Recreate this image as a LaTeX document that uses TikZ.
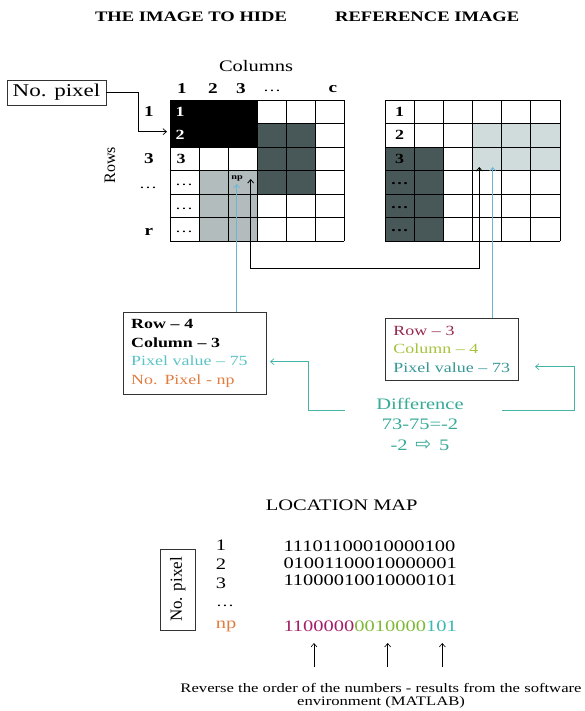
\documentclass[tikz,border=0pt]{standalone}
\usepackage{fontspec}
\setmainfont{Liberation Serif}[FakeStretch=1.28]
\newfontfamily\plainserif{Liberation Serif}
\newfontfamily\djv{DejaVu Sans}
\usetikzlibrary{arrows.meta}
\definecolor{darkcell}{RGB}{72,88,88}
\definecolor{lightcellL}{RGB}{178,188,188}
\definecolor{lightcellR}{RGB}{208,220,220}
\definecolor{bluel}{RGB}{110,180,215}
\definecolor{tealc}{RGB}{70,180,165}
\definecolor{pvL}{RGB}{90,195,195}
\definecolor{orangec}{RGB}{225,125,65}
\definecolor{maroonc}{RGB}{150,40,75}
\definecolor{olivec}{RGB}{165,195,60}
\definecolor{pvR}{RGB}{55,150,150}
\definecolor{difc}{RGB}{55,170,150}
\definecolor{npM}{RGB}{165,30,105}
\definecolor{npG}{RGB}{125,185,55}
\definecolor{npT}{RGB}{60,185,175}
\newcommand\fsz[2]{\fontsize{#1}{#2}\selectfont}
\begin{document}
\begin{tikzpicture}[x=1pt,y=-1pt,
  lbl/.style={inner sep=0pt},
  bl/.style={inner sep=0pt,font=\fsz{15}{18}\bfseries},
  cellnum/.style={inner sep=0pt,font=\fsz{14}{17}\bfseries},
  celldots/.style={inner sep=0pt,font=\fsz{14}{17}},
  gridl/.style={draw=black,line width=0.8pt},
  tip/.style={-{Straight Barb[length=3.5pt,width=6pt]}},
  conn/.style={line width=0.7pt,tip},
  infobox/.style={draw=black!80,line width=0.9pt,inner xsep=8pt,inner ysep=0pt,align=left,anchor=north west,font=\fsz{14}{18.5}},
]
\useasboundingbox (0,0) rectangle (584,711);

% titles
\node[lbl,font=\fsz{14.5}{17}\bfseries] (t1) at (191,17) {THE IMAGE TO HIDE};
\node[lbl,font=\fsz{14.5}{17}\bfseries,anchor=west] (t2) at (335,17) {REFERENCE IMAGE};

% left grid fills
\fill[black] (170,100) rectangle (257,147.1);
\fill[darkcell] (257,123.5) rectangle (315,194.2);
\fill[lightcellL] (199,170.6) rectangle (257,241.3);
\foreach \i in {0,...,6}{\draw[gridl] (170+29*\i,100) -- (170+29*\i,241.3);}
\foreach \j in {0,...,6}{\draw[gridl] (170,100+23.55*\j) -- (344,100+23.55*\j);}

% right grid fills
\fill[darkcell] (385,147.1) rectangle (443.3,241.3);
\fill[lightcellR] (472.5,123.5) rectangle (560,170.6);
\foreach \i in {0,...,6}{\draw[gridl] (385+29.17*\i,100) -- (385+29.17*\i,241.3);}
\foreach \j in {0,...,6}{\draw[gridl] (385,100+23.55*\j) -- (560,100+23.55*\j);}

% column header
\node[lbl,font=\fsz{16}{19}] (cols) at (256,66) {Columns};
\node[bl] (c1) at (182,89) {1};
\node[bl] (c2) at (213,89) {2};
\node[bl] (c3) at (241,89) {3};
\node[celldots] (c4) at (272,91) {\dots};
\node[bl] (cc) at (333,89) {c};

% row labels
\node[lbl,font=\fsz{16}{19}\plainserif,rotate=90] (rows) at (110,165) {Rows};
\node[bl] (r1) at (149,112) {1};
\node[bl] (r3) at (149,159) {3};
\node[celldots] (r4) at (148,188) {\dots};
\node[bl] (rr) at (149,232) {r};

% left grid numbers
\node[cellnum,text=white] (L1) at (180,111.8) {1};
\node[cellnum,text=white] (L2) at (180,135.3) {2};
\node[cellnum] (L3) at (181,158.9) {3};
\node[celldots] (L4) at (184,185) {\dots};
\node[celldots] (L5) at (184,208.5) {\dots};
\node[celldots] (L6) at (184,232) {\dots};
\node[lbl,font=\fsz{8}{9}\bfseries] (np) at (237,178) {np};

% right grid numbers
\node[cellnum] (R1) at (399.6,111.8) {1};
\node[cellnum] (R2) at (399.6,135.3) {2};
\node[cellnum] (R3) at (399.6,158.9) {3};
\node[cellnum] (R4) at (399.6,184) {\dots};
\node[cellnum] (R5) at (399.6,207.5) {\dots};
\node[cellnum] (R6) at (399.6,231) {\dots};

% No. pixel box
\node[draw=black!80,line width=0.9pt,minimum width=99pt,minimum height=25pt,inner sep=0pt,font=\fsz{18}{20}] (nopix) at (56.5,92.5) {No. pixel};
\coordinate (kP) at (138,131.7);
\coordinate (pin) at (167,131.7);
\draw[conn] (nopix.east) -| (kP) -- (pin);

% arrow tips inside grids
\coordinate (tipLk) at (250.7,179);
\coordinate (tipLb) at (236.7,184);
\coordinate (tipRk) at (479.3,167);
\coordinate (tipRb) at (492.7,167);
\coordinate (lowbar) at (365,268.3);
\draw[line width=0.8pt,{Straight Barb[length=3.5pt,width=6pt]}-{Straight Barb[length=3.5pt,width=6pt]}] (tipLk) |- (lowbar) -| (tipRk);

% info boxes
\node[infobox,minimum width=143pt,minimum height=82pt,text width=127pt] (boxL) at (122.7,311.7)
  {{\bfseries Row -- 4}\\ {\bfseries Column -- 3}\\ {\color{pvL}Pixel value -- 75}\\ {\color{orangec}No. Pixel - np}};
\node[infobox,minimum width=133.3pt,minimum height=62.3pt,text width=117.3pt] (boxR) at (385,317.7)
  {{\color{maroonc}Row -- 3}\\ {\color{olivec}Column -- 4}\\ {\color{pvR}Pixel value -- 73}};

\draw[conn,draw=bluel] (boxL.north -| tipLb) -- (tipLb);
\draw[conn,draw=bluel] (boxR.north -| tipRb) -- (tipRb);

% difference
\node[lbl,text=difc,font=\fsz{16}{19}] (d1) at (420,404.3) {Difference};
\node[lbl,text=difc,font=\fsz{16}{19}] (d2) at (420,424.3) {73-75=-2};
\node[lbl,text=difc,font=\fsz{16}{19}] (d3) at (420,445) {-2 \,{\djv\fsz{19}{20}⇨}\, 5};
\coordinate (dl) at (345,410.7);
\coordinate (kL) at (308.3,361.7);
\coordinate (aL) at (270,361.7);
\coordinate (dr) at (501.7,410.7);
\coordinate (kR) at (574,366.7);
\coordinate (aR) at (535,366.7);
\draw[conn,draw=tealc] (dl) -| (kL) -- (aL);
\draw[conn,draw=tealc] (dr) -| (kR) -- (aR);

% location map
\node[lbl,font=\fsz{16}{19}] (lm) at (341.7,505) {LOCATION MAP};
\node[draw=black!80,line width=0.9pt,rotate=90,minimum width=81pt,minimum height=34.3pt,inner sep=0pt,font=\fsz{17}{20}\plainserif] (nopix2) at (177.9,589.5) {No. pixel};
\node[lbl,font=\fsz{16}{19}] (n1) at (221,545) {1};
\node[lbl,font=\fsz{16}{19}] (n2) at (221,564) {2};
\node[lbl,font=\fsz{16}{19}] (n3) at (221,583) {3};
\node[lbl,font=\fsz{14}{19}] (n4) at (225,606) {\dots};
\node[lbl,font=\fsz{16}{19},text=orangec] (n5) at (226,626) {np};
\node[lbl,font=\fsz{16}{19},anchor=west] (s1) at (283.3,546.5) {11101100010000100};
\node[lbl,font=\fsz{16}{19},anchor=west] (s2) at (283.3,563) {01001100010000001};
\node[lbl,font=\fsz{16}{19},anchor=west] (s3) at (283.3,580.5) {11000010010000101};
\node[lbl,font=\fsz{16}{19},anchor=west] (s5) at (283.3,626.5) {{\color{npM}1100000}{\color{npG}0010000}{\color{npT}101}};

\coordinate (u1s) at (314,667);
\coordinate (u1e) at (314,643);
\coordinate (u2s) at (387.7,667);
\coordinate (u2e) at (387.7,643);
\coordinate (u3s) at (442.3,667);
\coordinate (u3e) at (442.3,643);
\draw[conn,line width=0.6pt] (u1s) -- (u1e);
\draw[conn,line width=0.6pt] (u2s) -- (u2e);
\draw[conn,line width=0.6pt] (u3s) -- (u3e);

\node[lbl,font=\fsz{13}{15}] (cap1) at (381,688) {Reverse the order of the numbers - results from the software};
\node[lbl,font=\fsz{13}{15}] (cap2) at (381,702) {environment (MATLAB)};
\end{tikzpicture}
\end{document}
